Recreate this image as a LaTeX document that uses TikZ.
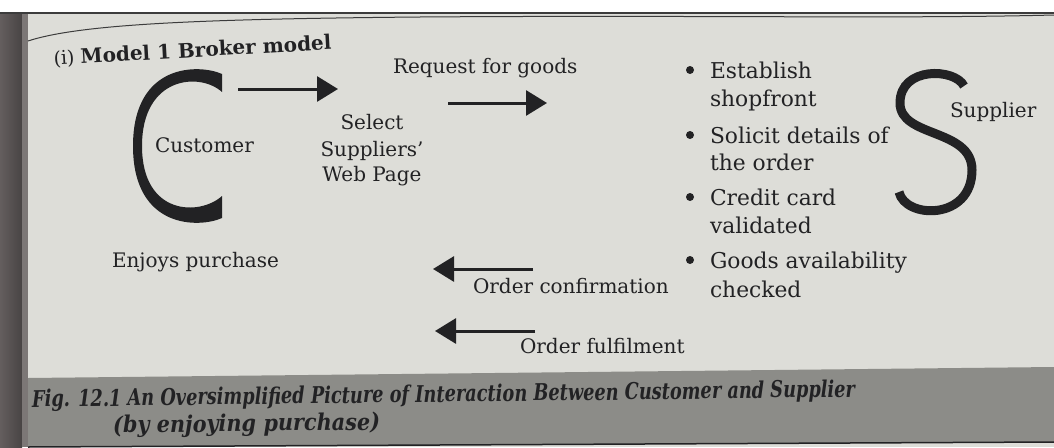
\documentclass[tikz,border=0pt]{standalone}
\usepackage{fontspec}
\setmainfont{DejaVu Serif}
\usetikzlibrary{arrows.meta}
\definecolor{page}{RGB}{221,221,216}
\definecolor{ink}{RGB}{34,34,36}
\definecolor{band}{RGB}{140,140,136}
\definecolor{bindA}{RGB}{100,94,94}
\definecolor{bindB}{RGB}{72,68,68}
\definecolor{edge}{RGB}{60,60,60}
\begin{document}
\begin{tikzpicture}[x=1pt,y=-1pt,
  txt/.style={inner sep=0pt, outer sep=0pt, text=ink, anchor=base west, font=\fontsize{20}{24}\selectfont},
  btxt/.style={txt, font=\fontsize{21.8}{24}\selectfont},
  ctxt/.style={txt, anchor=base},
  arr/.style={line width=3pt, draw=ink, -{Triangle[length=21pt,width=25pt]}},
  captext/.style={inner sep=0pt, text=ink, anchor=base west, rotate=0.7, font=\fontsize{23}{26}\selectfont\bfseries\itshape},
  bullet/.style={fill=ink}
]
\useasboundingbox (0,0) rectangle (1054,447);
% paper
\fill[white] (0,0) rectangle (1054,447);
\fill[page] (0,13) rectangle (1054,447);
\shade[left color=bindA, right color=bindB] (0,13) rectangle (22,447);
\fill[bindA!80!page] (22,13) rectangle (28,447);
\draw[edge, line width=1.5pt] (0,13) -- (1054,13);
\draw[edge, line width=1pt] (28,41) .. controls (80,24) and (200,19) .. (420,17) .. controls (700,15) and (900,19) .. (1054,15);
% caption band
\fill[band] (28,378) -- (1054,367) -- (1054,442) -- (28,447) -- cycle;
\draw[ink, line width=1.5pt] (28,447) -- (1054,442);

% title
\node[txt, rotate=3.2] (title) at (54,65) {\fontsize{19}{20}\selectfont(i) \textbf{\fontsize{20}{22}\selectfont Model 1 Broker model}};

% C shape
\fill[ink] (222,74) .. controls (200,64) and (133,62) .. (133,146)
  .. controls (133,230) and (200,228) .. (222,218) -- (222,196)
  .. controls (200,216) and (142,216) .. (142,146)
  .. controls (142,76) and (200,72) .. (222,92) -- cycle;
\node[txt] (cust) at (155,152) {Customer};

% S shape
\draw[ink, line width=9pt, line cap=butt] (964,86) .. controls (955,68) and (900,66) .. (900,103)
  .. controls (900,138) and (972,128) .. (972,170)
  .. controls (972,221) and (905,219) .. (899,192);
\node[txt] (supp) at (950,117) {Supplier};

% top arrows
\coordinate (a1s) at (238,89);
\coordinate (a1e) at (338,89);
\draw[arr] (a1s) -- (a1e);
\node[txt] (req) at (393,73) {Request for goods};
\coordinate (a2s) at (448,103);
\coordinate (a2e) at (547,103);
\draw[arr] (a2s) -- (a2e);

\node[ctxt] (sel1) at (372,129) {Select};
\node[ctxt] (sel2) at (372,156) {Suppliers'};
\node[ctxt] (sel3) at (372,181) {Web Page};

% bullets
\fill[bullet] (690,70) circle (4);
\node[btxt] (b1a) at (710,78) {Establish};
\node[btxt] (b1b) at (710,106) {shopfront};
\fill[bullet] (690,135) circle (4);
\node[btxt] (b2a) at (710,143) {Solicit details of};
\node[btxt] (b2b) at (710,170) {the order};
\fill[bullet] (690,197) circle (4);
\node[btxt] (b3a) at (710,205) {Credit card};
\node[btxt] (b3b) at (710,233) {validated};
\fill[bullet] (690,260) circle (4);
\node[btxt] (b4a) at (710,268) {Goods availability};
\node[btxt] (b4b) at (710,297) {checked};

% bottom
\node[txt] (enjoy) at (112,267) {Enjoys purchase};
\coordinate (a3s) at (533,269);
\coordinate (a3e) at (433,269);
\draw[arr] (a3s) -- (a3e);
\node[txt] (oc) at (473,293) {Order confirmation};
\coordinate (a4s) at (535,331);
\coordinate (a4e) at (435,331);
\draw[arr] (a4s) -- (a4e);
\node[txt] (of) at (520,353) {Order fulfilment};

% caption
\node[captext] (cap1) at (32,407) {\resizebox{823pt}{\height}{Fig. 12.1 An Oversimplified Picture of Interaction Between Customer and Supplier}};
\node[captext] (cap2) at (113,433) {\resizebox{267pt}{\height}{(by enjoying purchase)}};
\end{tikzpicture}
\end{document}
